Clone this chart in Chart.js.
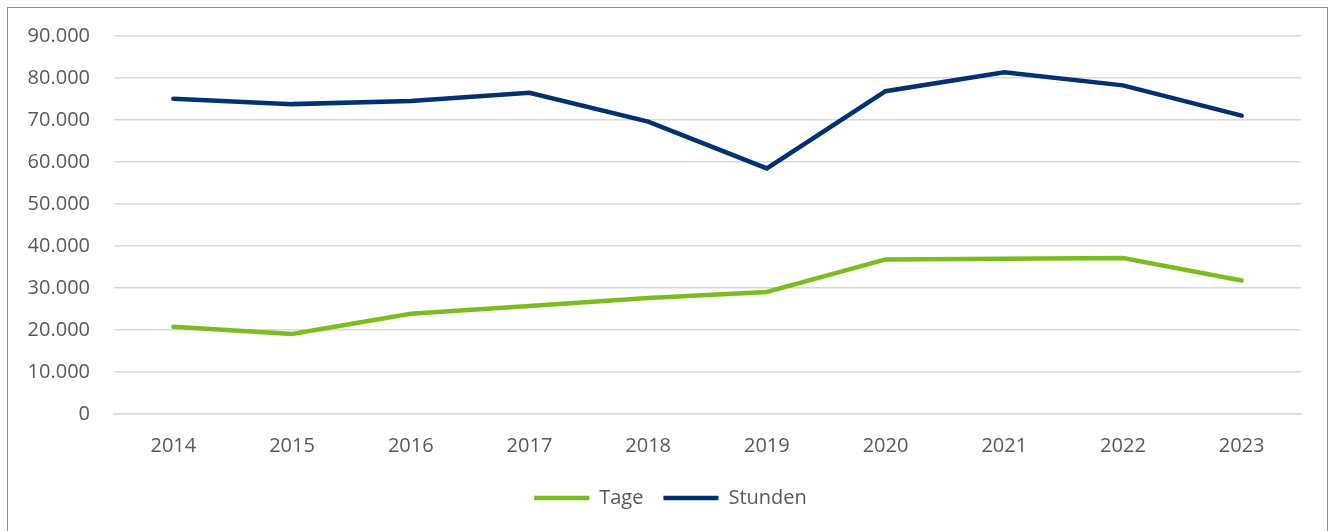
<!DOCTYPE html>
<html>
<head>
<meta charset="utf-8">
<script src="https://cdn.jsdelivr.net/npm/chart.js@4"></script>
<style>
	html, body { margin: 0; padding: 0; background: #fff; }
	#frame {
		position: absolute; left: 7px; top: 7px; width: 1321px; height: 540px;
		border: 1px solid #8c8c8c; box-sizing: border-box;
	}
	#wrap { position: absolute; left: 0; top: 0; width: 1333px; height: 531px; }
</style>
</head>
<body>
<div id="frame"></div>
<div id="wrap"><canvas id="lineChart"></canvas></div>
<script>
const years = ['2014', '2015', '2016', '2017', '2018', '2019', '2020', '2021', '2022', '2023'];
const tage = [20800, 19050, 23850, 25700, 27600, 29050, 36800, 36950, 37130, 31800];
const stunden = [75060, 73780, 74550, 76500, 69600, 58480, 76850, 81380, 78250, 71050];
const yTicks = [0, 10000, 20000, 30000, 40000, 50000, 60000, 70000, 80000, 90000];

const green = '#7abd1f';
const blue = '#003170';
const textColor = '#595959';
const gridColor = '#d9d9d9';
const fontFamily = '"Open Sans", "Noto Sans", sans-serif';
const fontSize = 20;

function fmt(v) {
	return String(v).replace(/\B(?=(\d{3})+(?!\d))/g, '.');
}

function lineChartConfig() {
	// nudge the legend right so it sits centred like the original
	const legendShift = {
		id: 'legendShift',
		afterLayout(chart) {
			if (!chart.legend) return;
			chart.legend.left += 20;
			chart.legend.right += 20;
		}
	};

	const canvas = document.getElementById('lineChart');
	if (!canvas) return;
	const ctx = canvas.getContext('2d');
	new Chart(ctx, {
		type: 'line',
		data: {
			labels: years,
			datasets: [
				{
					label: 'Tage',
					data: tage,
					borderColor: green,
					backgroundColor: green,
					borderWidth: 4.5,
					borderCapStyle: 'round',
					pointRadius: 0,
					tension: 0
				},
				{
					label: 'Stunden',
					data: stunden,
					borderColor: blue,
					backgroundColor: blue,
					borderWidth: 4.5,
					borderCapStyle: 'round',
					pointRadius: 0,
					tension: 0
				}
			]
		},
		options: {
			responsive: true,
			maintainAspectRatio: false,
			animation: false,
			layout: {
				padding: { left: 0, right: 32, top: 36, bottom: 13 }
			},
			plugins: {
				legend: {
					position: 'bottom',
					labels: {
						usePointStyle: true,
						pointStyle: 'line',
						pointStyleWidth: 55,
						color: textColor,
						padding: 20,
						font: { size: fontSize, family: fontFamily }
					}
				},
				tooltip: { enabled: false }
			},
			scales: {
				x: {
					offset: true,
					grid: { display: false, drawTicks: false },
					border: { display: true, color: gridColor, width: 1.5 },
					ticks: {
						color: textColor,
						padding: 20,
						font: { size: fontSize, family: fontFamily }
					},
					afterFit(scale) { scale.height = 54; }
				},
				y: {
					min: 0,
					max: 90000,
					afterBuildTicks(scale) { scale.ticks = yTicks.map(v => ({ value: v })); },
					grid: { color: gridColor, lineWidth: 1.5, drawTicks: false },
					border: { display: false },
					ticks: {
						color: textColor,
						padding: 24,
						font: { size: fontSize, family: fontFamily },
						callback: v => fmt(v)
					},
					afterFit(scale) { scale.width = 114; }
				}
			}
		},
		plugins: [legendShift]
	});
}
document.addEventListener('DOMContentLoaded', lineChartConfig);
</script>
</body>
</html>
